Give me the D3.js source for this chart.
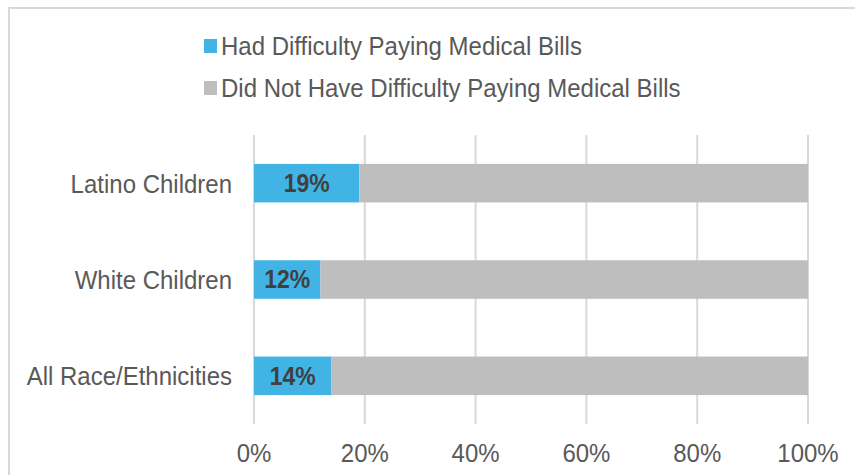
<!DOCTYPE html>
<html>
<head>
<meta charset="utf-8">
<script src="https://cdn.jsdelivr.net/npm/d3@7"></script>
<style>
  html, body { margin: 0; padding: 0; background: #fff; }
  svg { display: block; }
  text { font-family: "Liberation Sans", Arial, sans-serif; }
</style>
</head>
<body>
<svg id="chart" width="855" height="475"></svg>
<script>
// Share of children whose family had difficulty paying medical bills
const categories = ["Latino Children", "White Children", "All Race/Ethnicities"];
const hadDifficulty = [19, 12, 14];
const noDifficulty = [81, 88, 86];
const seriesNames = ["Had Difficulty Paying Medical Bills", "Did Not Have Difficulty Paying Medical Bills"];
const seriesColors = ["#41B4E5", "#BDBEBD"];
const tickValues = [0, 20, 40, 60, 80, 100];

const svg = d3.select("#chart");
const textColor = "#595959";
const stretch = 1.1;

// outer frame
svg.append("rect")
  .attr("x", 9).attr("y", 8)
  .attr("width", 900).attr("height", 520)
  .attr("fill", "none")
  .attr("stroke", "#D9D9D9")
  .attr("stroke-width", 2);

const plot = { left: 254, right: 808, top: 135, bottom: 424 };

const x = d3.scaleLinear().domain([0, 100]).range([plot.left, plot.right]);
const y = d3.scaleBand().domain(categories).range([plot.top, plot.bottom]).paddingInner(0.6).paddingOuter(0.3);

// vertical gridlines
svg.append("g").selectAll("line")
  .data(tickValues)
  .join("line")
  .attr("x1", d => x(d)).attr("x2", d => x(d))
  .attr("y1", plot.top).attr("y2", plot.bottom)
  .attr("stroke", "#D9D9D9")
  .attr("stroke-width", 2);

// text helper with a slightly tall letterform
function label(parent, px, py, str, opts) {
  const g = parent.append("g").attr("transform", `translate(${px},${py}) scale(1,${stretch})`);
  return g.append("text")
    .attr("text-anchor", opts.anchor || "start")
    .attr("dominant-baseline", "central")
    .attr("font-size", opts.size)
    .attr("font-weight", opts.weight || "normal")
    .attr("fill", opts.color || textColor)
    .text(str);
}

// stacked bars
const rows = categories.map((c, i) => ({ cat: c, a: hadDifficulty[i], b: noDifficulty[i] }));
const barG = svg.append("g");
rows.forEach(r => {
  barG.append("rect")
    .attr("x", x(0)).attr("y", y(r.cat))
    .attr("width", x(r.a) - x(0)).attr("height", y.bandwidth())
    .attr("fill", seriesColors[0]);
  barG.append("rect")
    .attr("x", x(r.a)).attr("y", y(r.cat))
    .attr("width", x(r.a + r.b) - x(r.a)).attr("height", y.bandwidth())
    .attr("fill", seriesColors[1]);
  label(barG, (x(0) + x(r.a)) / 2, y(r.cat) + y.bandwidth() / 2, r.a + "%",
    { anchor: "middle", size: 23, weight: "bold", color: "#404040" });
});

// category axis labels
categories.forEach(c => {
  label(svg, 232, y(c) + y.bandwidth() / 2, c, { anchor: "end", size: 24 });
});

// value axis labels
const xAxis = d3.axisBottom(x).tickValues(tickValues).tickFormat(d => d + "%").tickSize(0);
const axG = svg.append("g").attr("transform", `translate(0,${plot.bottom})`).call(xAxis);
axG.select(".domain").remove();
axG.selectAll(".tick text").each(function (d) {
  const t = d3.select(this);
  t.remove();
});
tickValues.forEach(v => {
  label(svg, x(v), 453, v + "%", { anchor: "middle", size: 24 });
});

// legend
const legendY = [46, 88];
seriesNames.forEach((name, i) => {
  svg.append("rect")
    .attr("x", 204).attr("y", legendY[i] - 7)
    .attr("width", 13).attr("height", 14)
    .attr("fill", seriesColors[i]);
  label(svg, 221, legendY[i], name, { size: 24 });
});
</script>
</body>
</html>
